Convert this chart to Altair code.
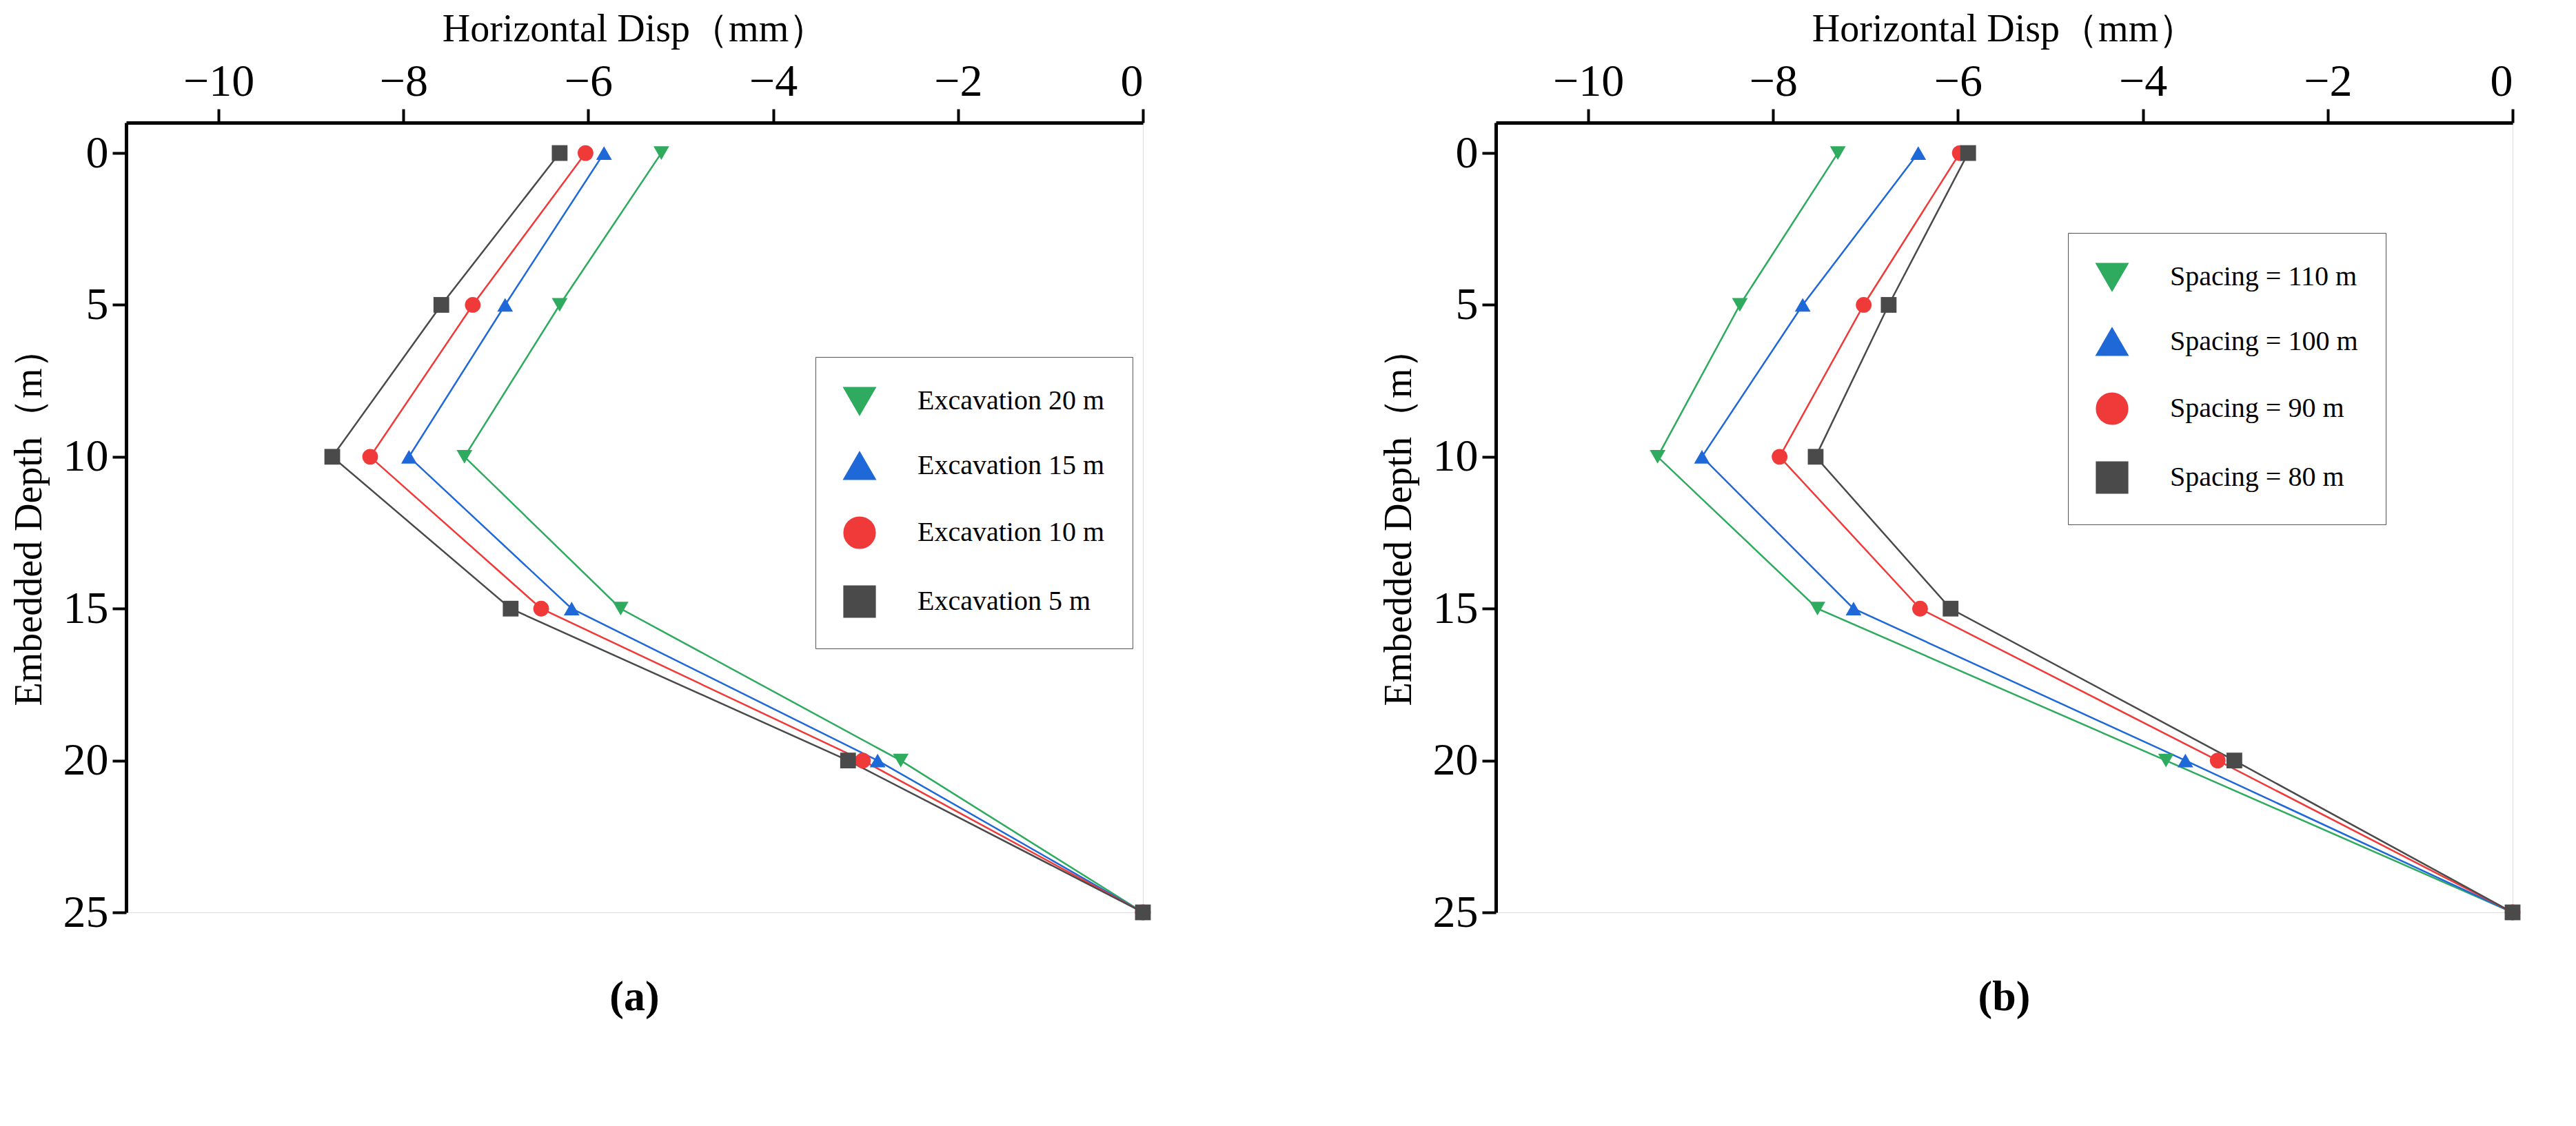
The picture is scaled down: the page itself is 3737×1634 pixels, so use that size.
import pandas as pd
import altair as alt

depth = [0, 5, 10, 15, 20, 25]

# panel (a): excavation depth
exc_labels = ["Excavation 20 m", "Excavation 15 m", "Excavation 10 m", "Excavation 5 m"]
exc_20 = [-5.21, -6.31, -7.34, -5.65, -2.62, 0]
exc_15 = [-5.83, -6.90, -7.94, -6.18, -2.87, 0]
exc_10 = [-6.03, -7.25, -8.36, -6.51, -3.03, 0]
exc_5 = [-6.31, -7.59, -8.77, -6.84, -3.19, 0]

# panel (b): spacing
sp_labels = ["Spacing = 110 m", "Spacing = 100 m", "Spacing = 90 m", "Spacing = 80 m"]
sp_110 = [-7.30, -8.36, -9.25, -7.52, -3.75, 0]
sp_100 = [-6.43, -7.68, -8.77, -7.13, -3.54, 0]
sp_90 = [-5.98, -7.02, -7.93, -6.41, -3.19, 0]
sp_80 = [-5.89, -6.75, -7.54, -6.08, -3.01, 0]

colors = ["#2eab5e", "#1f68d8", "#f03a3a", "#4a4a4a"]
shapes = ["triangle-down", "triangle-up", "circle", "square"]
FONT = "Liberation Serif"


def to_frame(labels, series):
    rows = []
    for lab, vals in zip(labels, series):
        for d, v in zip(depth, vals):
            rows.append({"series": lab, "depth": d, "disp": v})
    return pd.DataFrame(rows)


def panel(labels, series, caption, lx, ly):
    df = to_frame(labels, series)
    x = alt.X("disp:Q", scale=alt.Scale(domain=[-11, 0], nice=False),
              title="Horizontal Disp（mm）",
              axis=alt.Axis(orient="top", values=[-10, -8, -6, -4, -2, 0],
                            grid=False, tickSize=20, tickWidth=4, domainWidth=5,
                            domainColor="black", tickColor="black",
                            labelFontSize=66, titleFontSize=56, labelPadding=6,
                            titlePadding=14, labelFont=FONT, titleFont=FONT,
                            titleFontWeight="normal", labelColor="black",
                            titleColor="black"))
    y = alt.Y("depth:Q", scale=alt.Scale(domain=[-1, 25], reverse=True, nice=False),
              title="Embedded Depth（m）",
              axis=alt.Axis(values=[0, 5, 10, 15, 20, 25], grid=False,
                            tickSize=20, tickWidth=4, domainWidth=5,
                            domainColor="black", tickColor="black",
                            labelFontSize=66, titleFontSize=56, labelPadding=6,
                            titlePadding=20, labelFont=FONT, titleFont=FONT,
                            titleFontWeight="normal", labelColor="black",
                            titleColor="black"))
    color = alt.Color("series:N", scale=alt.Scale(domain=labels, range=colors),
                      title=None,
                      legend=alt.Legend(orient="none", legendX=lx, legendY=ly,
                                        strokeColor="#555", padding=40,
                                        labelFont=FONT, labelFontSize=40,
                                        labelColor="black", symbolSize=2000,
                                        symbolStrokeWidth=2.5, rowPadding=44,
                                        labelOffset=60, labelLimit=700,
                                        symbolType="stroke"))
    shape = alt.Shape("series:N", scale=alt.Scale(domain=labels, range=shapes),
                      legend=None)
    order = alt.Order("depth:Q")
    lines = alt.Chart(df).mark_line(strokeWidth=2.5).encode(
        x=x, y=y, color=color, detail="series:N", order=order)
    pts = alt.Chart(df).mark_point(filled=True, size=520, opacity=1).encode(
        x=x, y=y, shape=shape,
        fill=alt.Fill("series:N", scale=alt.Scale(domain=labels, range=colors),
                      legend=None))
    return (lines + pts).properties(
        width=1475, height=1146,
        title=alt.TitleParams(caption, orient="bottom", font=FONT, fontSize=62,
                              fontWeight="bold", color="black", offset=60))


left = panel(exc_labels, [exc_20, exc_15, exc_10, exc_5], "(a)", 1000, 340)
right = panel(sp_labels, [sp_110, sp_100, sp_90, sp_80], "(b)", 830, 160)

chart = alt.hconcat(left, right, spacing=330).resolve_scale(
    color="independent", shape="independent", fill="independent"
).configure_view(stroke=None).configure(background="white", padding=5)

chart.save("out.html", embed_options={"renderer": "svg", "actions": False})
